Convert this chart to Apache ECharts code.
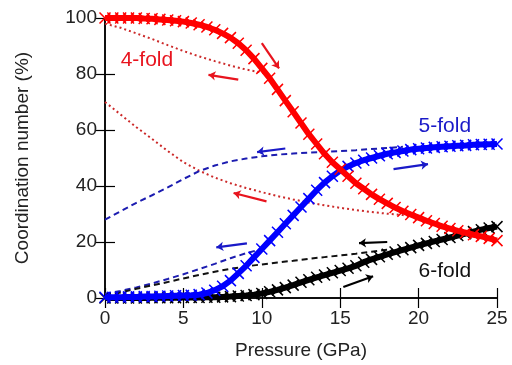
<!DOCTYPE html>
<html><head><meta charset="utf-8">
<script src="https://cdn.jsdelivr.net/npm/echarts@6/dist/echarts.min.js"></script>
<style>html,body{margin:0;padding:0;background:#fff}#c{width:512px;height:365px}</style>
</head><body><div id="c"></div>
<script>
// Compression (solid, crosses)
const fourFoldUp = [[0,100],[0.5,100],[1,100],[1.5,100],[2,100],[2.5,99.8],[3,99.7],[3.5,99.5],[4,99.3],[4.5,99],[5,98.7],[5.5,98.2],[6,97.6],[6.5,96.8],[7,95.8],[7.5,94.5],[8,93],[8.5,91],[9,88.5],[9.5,85.5],[10,82],[10.5,78.5],[11,74.5],[11.5,70.5],[12,66.5],[12.5,62.5],[13,58.5],[13.5,55],[14,51.5],[14.5,48.5],[15,46],[15.5,43.5],[16,41],[16.5,39],[17,37],[17.5,35.3],[18,33.8],[18.5,32.3],[19,31],[19.5,29.8],[20,28.7],[20.5,27.6],[21,26.6],[21.5,25.6],[22,24.8],[22.5,24],[23,23.3],[23.5,22.6],[24,22],[24.5,21.3],[25,20.5]];
const fiveFoldUp = [[0,0.3],[0.5,0.3],[1,0.3],[1.5,0.4],[2,0.4],[2.5,0.5],[3,0.5],[3.5,0.6],[4,0.7],[4.5,0.8],[5,0.9],[5.5,1],[6,1.2],[6.5,1.8],[7,2.8],[7.5,4.2],[8,6.2],[8.5,8.8],[9,11.5],[9.5,14.5],[10,17.5],[10.5,20.5],[11,23.5],[11.5,26.5],[12,29.5],[12.5,32.5],[13,35.5],[13.5,38.5],[14,41.2],[14.5,43.5],[15,45.5],[15.5,47],[16,48.2],[16.5,49.2],[17,50],[17.5,50.8],[18,51.5],[18.5,52],[19,52.5],[19.5,53],[20,53.3],[20.5,53.6],[21,53.8],[21.5,54],[22,54.2],[22.5,54.4],[23,54.5],[23.5,54.7],[24,54.8],[24.5,54.9],[25,55]];
const sixFoldUp = [[0,0],[0.5,0],[1,0],[1.5,0],[2,0],[2.5,0],[3,0.1],[3.5,0.1],[4,0.1],[4.5,0.1],[5,0.2],[5.5,0.2],[6,0.2],[6.5,0.3],[7,0.3],[7.5,0.4],[8,0.5],[8.5,0.7],[9,0.9],[9.5,1.2],[10,1.6],[10.5,2.2],[11,2.9],[11.5,3.7],[12,4.6],[12.5,5.6],[13,6.5],[13.5,7.4],[14,8.2],[14.5,9],[15,9.8],[15.5,10.6],[16,11.5],[16.5,12.8],[17,13.8],[17.5,14.7],[18,15.6],[18.5,16.4],[19,17.2],[19.5,18],[20,18.8],[20.5,19.5],[21,20.2],[21.5,20.9],[22,21.6],[22.5,22.3],[23,23],[23.5,23.7],[24,24.4],[24.5,25],[25,25.5]];
// Decompression (dotted / dashed)
const fourFoldDownA = [[0,98],[1,96.5],[2,94.5],[3,92.5],[4,90.3],[5,88.2],[6,86.3],[7,84.6],[8,83],[9,81.6],[10,80.5],[10.3,80]];
const fourFoldDownB = [[0,70],[1,65.5],[2,61],[3,56.8],[4,52.5],[5,48.5],[6,45.5],[7,43],[8,41],[9,39.3],[10,37.8],[11,36.4],[12,35.2],[13,34.1],[14,33.1],[15,32.2],[16,31.4],[17,30.7],[18,30.1],[19,29.6],[19.8,29.3]];
const fiveFoldDownA = [[0,28],[1,31],[2,34],[3,36.7],[4,39.5],[5,42.5],[6,45.3],[7,47.3],[8,48.8],[9,49.8],[10,50.6],[11,51.2],[12,51.6],[13,51.9],[14,52.2],[15,52.5],[16,52.8],[17,53.2],[18,53.6],[19,54]];
const fiveFoldDownB = [[0,1.5],[1,2.5],[2,3.8],[3,5.2],[4,6.8],[5,8.5],[6,10.3],[7,12.2],[8,14.2],[9,16],[10,17.5]];
const sixFoldDown = [[0,1],[1,2],[2,3.3],[3,4.5],[4,5.7],[5,7],[6,8.2],[7,9.4],[8,10.4],[9,11.3],[10,12],[11,12.7],[12,13.3],[13,14],[14,14.6],[15,15.2],[16,15.8],[17,16.5],[18,17.2]];
// Arrows [from, to]
const redArrows = [[[10,91],[11.1,82]],[[8.5,78],[6.6,79.7]],[[10.3,34.5],[8.2,37.5]]];
const blueArrows = [[[11.5,53.4],[9.7,52.1]],[[18.4,46],[20.6,47.8]],[[9.05,19.5],[7.1,18.1]]];
const blackArrows = [[[18,20],[16.2,19.6]],[[15.2,3.9],[17.1,7.8]]];
const xTicks = [0,5,10,15,20,25];
const yTicks = [0,20,40,60,80,100];
const labels = [{t:'4-fold',x:1,y:85,c:'#e8141e'},{t:'5-fold',x:20.0,y:61.5,c:'#1a1ac8'},{t:'6-fold',x:20.0,y:9.5,c:'#111'}];

const FONT = 'Liberation Sans, Arial, sans-serif';
const XSYM = 'path://M0,0L10,10M0,10L10,0';
function solid(data, color, z){
  return {type:'line', data, z, showSymbol:true, symbol:XSYM, symbolSize:11,
    lineStyle:{color, width:6}, itemStyle:{color:'none', borderColor:color, borderWidth:1.5},
    silent:true, animation:false};
}
function dash(data, color, type, z){
  return {type:'line', data, z, showSymbol:false, symbol:'none',
    lineStyle:{color, width:2, type}, silent:true, animation:false};
}
function arrows(list, color){
  return {type:'lines', coordinateSystem:'cartesian2d', z:10, symbol:['none','arrow'], symbolSize:7,
    lineStyle:{color, width:2.2, opacity:1}, data:list.map(c=>({coords:c})), silent:true, animation:false};
}
const chart = echarts.init(document.getElementById('c'), null, {renderer:'canvas'});
const axisLine = {show:true, lineStyle:{color:'#000', width:1.5}};
const tick = {inside:true, length:10, lineStyle:{color:'#000', width:1.2}};
chart.setOption({
  animation:false,
  grid:{left:105, right:15, top:18, bottom:66},
  textStyle:{fontFamily:FONT},
  xAxis:[
    {type:'value', min:xTicks[0], max:xTicks[xTicks.length-1], interval:5, axisLine, position:'bottom',
     axisTick:tick, splitLine:{show:false},
     axisLabel:{fontSize:19, color:'#222', margin:11, fontFamily:FONT},
     name:'Pressure (GPa)', nameLocation:'middle', nameGap:43, nameTextStyle:{fontSize:19, color:'#222', fontFamily:FONT}},
    {type:'value', min:0, max:25, interval:5, axisLine, position:'top',
     axisTick:tick, axisLabel:{show:false}, splitLine:{show:false}}
  ],
  yAxis:[
    {type:'value', min:yTicks[0], max:yTicks[yTicks.length-1], interval:20, axisLine, position:'left',
     axisTick:tick, splitLine:{show:false},
     axisLabel:{fontSize:19, color:'#222', margin:8, fontFamily:FONT},
     name:'Coordination number (%)', nameLocation:'middle', nameGap:73, nameTextStyle:{fontSize:19, color:'#222', fontFamily:FONT}},
    {type:'value', min:0, max:100, interval:20, axisLine, position:'right',
     axisTick:tick, axisLabel:{show:false}, splitLine:{show:false}}
  ],
  series:[
    dash(fourFoldDownA, '#cc2a2a', [2,3], 2),
    dash(fourFoldDownB, '#cc2a2a', [2,3], 2),
    dash(fiveFoldDownA, '#1c1cb0', [6,4], 2),
    dash(fiveFoldDownB, '#1c1cb0', [6,4], 2),
    dash(sixFoldDown, '#111', [6,4], 2),
    solid(sixFoldUp, '#000', 3),
    solid(fiveFoldUp, '#0000ff', 4),
    solid(fourFoldUp, '#ff0000', 5),
    arrows(redArrows, '#e8141e'),
    arrows(blueArrows, '#1a1ac8'),
    arrows(blackArrows, '#000')
  ]
});
const g = labels.map(l=>{
  const p = chart.convertToPixel({gridIndex:0}, [l.x, l.y]);
  return {type:'text', x:p[0], y:p[1], z:20, style:{text:l.t, fill:l.c, font:'21px '+FONT, textAlign:'left', textVerticalAlign:'middle'}};
});
chart.setOption({graphic:g});
</script></body></html>
